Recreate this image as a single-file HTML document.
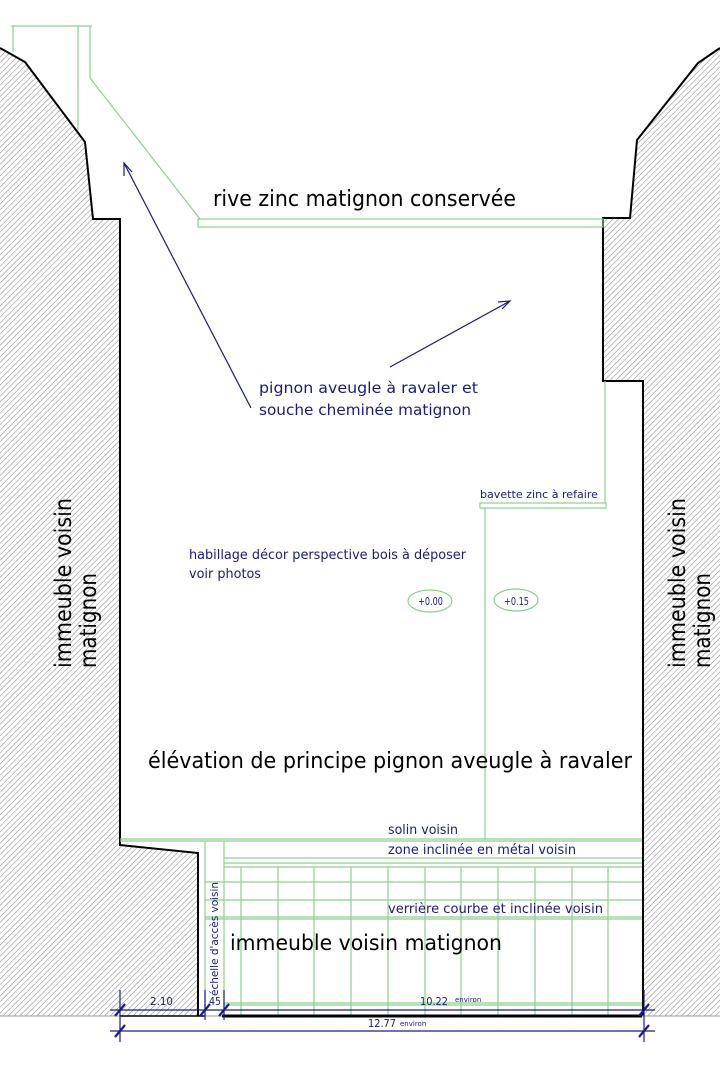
<!DOCTYPE html>
<html><head><meta charset="utf-8"><style>
html,body{margin:0;padding:0;background:#fff;}
svg{display:block;}
text{font-family:"DejaVu Sans","Liberation Sans",sans-serif;}
</style></head><body>
<svg width="720" height="1080" viewBox="0 0 720 1080" xmlns="http://www.w3.org/2000/svg">
<defs>
<pattern id="h" patternUnits="userSpaceOnUse" width="4" height="4" patternTransform="rotate(45)">
<rect width="4" height="4" fill="#fff"/>
<line x1="0" y1="0" x2="0" y2="4" stroke="#8a8a8a" stroke-width="1.1"/>
</pattern>
</defs>
<rect width="720" height="1080" fill="#fff"/>
<polygon points="0,48 25,62 85,142 93,219 120,219 120,845 198,853 198,1016 0,1016" fill="url(#h)"/>
<polyline points="0,48 25,62 85,142 93,219 120,219 120,845 198,853 198,1016" fill="none" stroke="#000" stroke-width="2"/>
<polygon points="720,48 698,63 637,140 630,218 603,218 603,381 643,381 643,1016 720,1016" fill="url(#h)"/>
<polyline points="720,48 698,63 637,140 630,218 603,218 603,381 643,381 643,1016" fill="none" stroke="#000" stroke-width="2"/>
<line x1="0" y1="1016" x2="720" y2="1016" stroke="#999" stroke-width="1"/>
<g stroke="#8fcf8f" stroke-width="1.2" fill="none">
<line x1="11" y1="26" x2="92" y2="26"/>
<line x1="13" y1="26" x2="13" y2="52"/>
<line x1="78" y1="26" x2="78" y2="130"/>
<line x1="90" y1="26" x2="90" y2="78"/>
<line x1="90" y1="78" x2="200" y2="219"/>
<rect x="198" y="219" width="405" height="8"/>
<line x1="605" y1="381" x2="605" y2="503"/>
<rect x="480" y="503" width="126" height="5"/>
<line x1="485" y1="508" x2="485" y2="840"/>
<ellipse cx="430" cy="601" rx="22" ry="11"/>
<ellipse cx="516" cy="600" rx="22" ry="11"/>
<line x1="120" y1="839" x2="642" y2="839"/>
<line x1="120" y1="841" x2="642" y2="841"/>
<line x1="224" y1="858" x2="642" y2="858"/>
<line x1="224" y1="863" x2="642" y2="863"/>
<line x1="224" y1="867" x2="642" y2="867"/>
<line x1="205" y1="882" x2="642" y2="882"/>
<line x1="205" y1="900" x2="642" y2="900"/>
<line x1="205" y1="917" x2="642" y2="917"/>
<line x1="205" y1="919" x2="642" y2="919"/>
<line x1="224" y1="1003" x2="642" y2="1003"/>
<line x1="224" y1="1005" x2="642" y2="1005"/>
<line x1="205" y1="841" x2="205" y2="1016"/>
<line x1="224" y1="841" x2="224" y2="1016"/>
<line x1="241" y1="867" x2="241" y2="1016"/>
<line x1="278" y1="867" x2="278" y2="1016"/>
<line x1="314" y1="867" x2="314" y2="1016"/>
<line x1="351" y1="867" x2="351" y2="1016"/>
<line x1="388" y1="867" x2="388" y2="1016"/>
<line x1="425" y1="867" x2="425" y2="1016"/>
<line x1="461" y1="867" x2="461" y2="1016"/>
<line x1="498" y1="867" x2="498" y2="1016"/>
<line x1="535" y1="867" x2="535" y2="1016"/>
<line x1="572" y1="867" x2="572" y2="1016"/>
<line x1="608" y1="867" x2="608" y2="1016"/>
</g>
<line x1="222" y1="1016" x2="642" y2="1016" stroke="#000" stroke-width="3"/>
<line x1="120" y1="1016" x2="205" y2="1016" stroke="#000" stroke-width="1.5"/>
<g stroke="#1a1a7a" stroke-width="1.2" fill="none">
<line x1="251" y1="408" x2="124" y2="163"/>
<polyline points="124,176 124,163 132,172"/>
<line x1="390" y1="367" x2="510" y2="301"/>
<polyline points="498,302 510,301 502,309"/>
</g>
<g stroke="#1a1a8a" stroke-width="1.2">
<line x1="110" y1="1010" x2="655" y2="1010"/>
<line x1="110" y1="1031" x2="655" y2="1031"/>
<line x1="120" y1="990" x2="120" y2="1042"/>
<line x1="205" y1="990" x2="205" y2="1020"/>
<line x1="224" y1="990" x2="224" y2="1020"/>
<line x1="644" y1="990" x2="644" y2="1042"/>
</g>
<g stroke="#1a1a8a" stroke-width="2.2">
<line x1="115" y1="1016" x2="125" y2="1004"/>
<line x1="200" y1="1016" x2="210" y2="1004"/>
<line x1="219" y1="1016" x2="229" y2="1004"/>
<line x1="639" y1="1016" x2="649" y2="1004"/>
<line x1="115" y1="1037" x2="125" y2="1025"/>
<line x1="639" y1="1037" x2="649" y2="1025"/>
</g>
<g fill="#1a1a7a" lengthAdjust="spacingAndGlyphs">
<text x="150" y="1005" font-size="11" textLength="23" lengthAdjust="spacingAndGlyphs">2.10</text>
<text x="209" y="1005" font-size="11" textLength="12" lengthAdjust="spacingAndGlyphs">45</text>
<text x="420" y="1005" font-size="11" textLength="28" lengthAdjust="spacingAndGlyphs">10.22</text>
<text x="455" y="1002" font-size="7">environ</text>
<text x="368" y="1027" font-size="11" textLength="28" lengthAdjust="spacingAndGlyphs">12.77</text>
<text x="400" y="1026" font-size="7">environ</text>
<text x="259" y="393" font-size="15" textLength="219" lengthAdjust="spacingAndGlyphs">pignon aveugle à ravaler  et</text>
<text x="259" y="415" font-size="15" textLength="212" lengthAdjust="spacingAndGlyphs">souche cheminée matignon</text>
<text x="480" y="498" font-size="11" textLength="118" lengthAdjust="spacingAndGlyphs">bavette  zinc à refaire</text>
<text x="189" y="559" font-size="13" textLength="277" lengthAdjust="spacingAndGlyphs">habillage décor perspective bois à déposer</text>
<text x="189" y="578" font-size="13" textLength="72" lengthAdjust="spacingAndGlyphs">voir photos</text>
<text x="418" y="605" font-size="11" textLength="25" lengthAdjust="spacingAndGlyphs">+0.00</text>
<text x="504" y="605" font-size="11" textLength="25" lengthAdjust="spacingAndGlyphs">+0.15</text>
<text x="388" y="834" font-size="13" textLength="70" lengthAdjust="spacingAndGlyphs">solin voisin</text>
<text x="388" y="854" font-size="13" textLength="188" lengthAdjust="spacingAndGlyphs">zone inclinée en métal voisin</text>
<text x="388" y="913" font-size="13" textLength="215" lengthAdjust="spacingAndGlyphs">verrière courbe et inclinée voisin</text>
<text transform="translate(218,996) rotate(-90)" font-size="11" textLength="114" lengthAdjust="spacingAndGlyphs">échelle d'accès voisin</text>
</g>
<g fill="#000">
<text x="213" y="206" font-size="22" textLength="303" lengthAdjust="spacingAndGlyphs">rive zinc matignon conservée</text>
<text x="148" y="768" font-size="22" textLength="484" lengthAdjust="spacingAndGlyphs">élévation de principe pignon aveugle à ravaler</text>
<text x="230" y="950" font-size="21" textLength="272" lengthAdjust="spacingAndGlyphs">immeuble voisin matignon</text>
<text transform="translate(71,668) rotate(-90)" font-size="23" textLength="170" lengthAdjust="spacingAndGlyphs">immeuble voisin</text>
<text transform="translate(96,668) rotate(-90)" font-size="23" textLength="95" lengthAdjust="spacingAndGlyphs">matignon</text>
<text transform="translate(685,668) rotate(-90)" font-size="23" textLength="170" lengthAdjust="spacingAndGlyphs">immeuble voisin</text>
<text transform="translate(710,668) rotate(-90)" font-size="23" textLength="95" lengthAdjust="spacingAndGlyphs">matignon</text>
</g>
</svg>
</body></html>
